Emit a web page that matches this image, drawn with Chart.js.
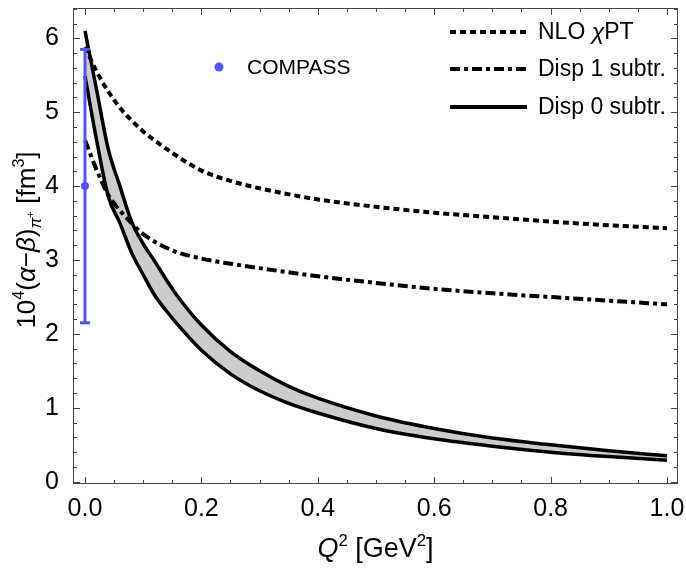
<!DOCTYPE html>
<html><head><meta charset="utf-8">
<script src="https://cdn.jsdelivr.net/npm/chart.js@4"></script>
<style>html,body{margin:0;padding:0;background:#fff;}#wrap{width:686px;height:571px;}</style>
</head><body><div id="wrap"><canvas id="c" width="686" height="571"></canvas></div>
<script>
// ---- data ----
const q2Band      = [0, 0.02, 0.04, 0.06, 0.08, 0.10, 0.12, 0.14, 0.16, 0.20, 0.25, 0.30, 0.35, 0.40, 0.50, 0.60, 0.70, 0.80, 0.90, 1.00];
const disp0Upper  = [6.10, 5.30, 4.50, 4.00, 3.52, 3.22, 2.98, 2.73, 2.50, 2.12, 1.76, 1.50, 1.29, 1.13, 0.89, 0.72, 0.59, 0.50, 0.42, 0.35];
const disp0Lower  = [5.49, 4.62, 3.86, 3.50, 3.10, 2.80, 2.52, 2.31, 2.12, 1.78, 1.46, 1.23, 1.06, 0.93, 0.72, 0.58, 0.48, 0.40, 0.34, 0.29];
const q2Curves    = [0, 0.02, 0.04, 0.06, 0.08, 0.10, 0.15, 0.20, 0.25, 0.30, 0.40, 0.50, 0.60, 0.70, 0.80, 0.90, 1.00];
const nloChpt     = [5.88, 5.55, 5.28, 5.06, 4.89, 4.74, 4.45, 4.21, 4.07, 3.97, 3.82, 3.72, 3.64, 3.58, 3.52, 3.47, 3.43];
const disp1Subtr  = [4.62, 4.22, 3.88, 3.67, 3.50, 3.35, 3.13, 3.02, 2.95, 2.89, 2.78, 2.69, 2.61, 2.55, 2.50, 2.45, 2.40];
const compassQ2   = [0];
const compassVal  = [4.0];
const compassLow  = [2.15];
const compassHigh = [5.85];
const xTickValues = [0, 0.2, 0.4, 0.6, 0.8, 1.0];
const yTickValues = [0, 1, 2, 3, 4, 5, 6];
const legendLabels = ['NLO χPT', 'Disp 1 subtr.', 'Disp 0 subtr.'];
const compassLabel = 'COMPASS';

const BLUE = 'rgb(82,82,255)';
const FONT = "'Liberation Sans', Arial, sans-serif";
const pts = (xs, ys) => xs.map((x, i) => ({x: x, y: ys[i]}));

function richText(ctx, x, y, parts, size, align) {
  // parts: [text, scale, shift(em, +up), italic]
  let total = 0;
  const m = parts.map(p => {
    const fs = size * (p[1] || 1);
    ctx.font = (p[3] ? 'italic ' : '') + fs + 'px ' + FONT;
    const w = ctx.measureText(p[0]).width;
    total += w;
    return {t: p[0], f: ctx.font, w: w, dy: -(p[2] || 0) * size};
  });
  let cx = align === 'center' ? x - total / 2 : x;
  m.forEach(p => { ctx.font = p.f; ctx.fillText(p.t, cx, y + p.dy); cx += p.w; });
}

const decor = {
  id: 'decor',
  afterDraw(chart) {
    const ctx = chart.ctx, a = chart.chartArea;
    const xs = chart.scales.x, ys = chart.scales.y;
    ctx.save();
    // frame
    ctx.strokeStyle = '#444'; ctx.lineWidth = 1;
    ctx.strokeRect(a.left + 0.5, a.top + 0.5, a.right - a.left - 1, a.bottom - a.top - 1);
    // ticks (inward) on all four sides
    ctx.beginPath();
    for (let i = 0; i <= 20; i++) {
      const v = i * 0.05, px = Math.round(xs.getPixelForValue(v)) + 0.5;
      const L = (i % 4 === 0) ? 7 : 4;
      ctx.moveTo(px, a.bottom); ctx.lineTo(px, a.bottom - L);
      ctx.moveTo(px, a.top); ctx.lineTo(px, a.top + L);
    }
    for (let i = 0; i <= 32; i++) {
      const v = i * 0.2, py = Math.round(ys.getPixelForValue(v)) + 0.5;
      if (py < a.top || py > a.bottom) continue;
      const L = (i % 5 === 0) ? 7 : 4;
      ctx.moveTo(a.left, py); ctx.lineTo(a.left + L, py);
      ctx.moveTo(a.right, py); ctx.lineTo(a.right - L, py);
    }
    ctx.stroke();

    // legend (lines)
    ctx.strokeStyle = '#000'; ctx.lineWidth = 4; ctx.lineCap = 'butt';
    const ly = [32, 69, 107], dashes = [[6, 4], [10, 4, 4, 4], []];
    ly.forEach((y, i) => {
      ctx.setLineDash(dashes[i]);
      ctx.beginPath(); ctx.moveTo(450, y); ctx.lineTo(527, y); ctx.stroke();
    });
    ctx.setLineDash([]);
    ctx.fillStyle = '#000'; ctx.textBaseline = 'middle'; ctx.textAlign = 'left';
    richText(ctx, 538, ly[0] + 1, [['NLO '], ['χ', 1, 0, true], ['PT']], 23);
    richText(ctx, 538, ly[1] + 1, [[legendLabels[1]]], 23);
    richText(ctx, 538, ly[2] + 1, [[legendLabels[2]]], 23);
    // COMPASS legend
    ctx.fillStyle = BLUE;
    ctx.beginPath(); ctx.arc(219, 67, 4.5, 0, Math.PI * 2); ctx.fill();
    ctx.fillStyle = '#000';
    richText(ctx, 247, 68, [[compassLabel]], 21);

    // axis titles
    ctx.textBaseline = 'alphabetic';
    richText(ctx, (a.left + a.right) / 2, 557,
      [['Q', 1, 0, true], ['2', 0.62, 0.42], [' [GeV'], ['2', 0.62, 0.42], [']']], 27, 'center');
    ctx.save();
    ctx.translate(35, 240);
    ctx.rotate(-Math.PI / 2);
    richText(ctx, 0, 0,
      [['10'], ['4', 0.62, 0.42], ['('], ['α', 1, 0, true], ['−'], ['β', 1, 0, true], [')'],
       ['π', 0.62, -0.22, true], ['+', 0.45, 0.05], [' [fm'], ['3', 0.62, 0.42], [']']], 26, 'center');
    ctx.restore();
    ctx.restore();
  }
};

new Chart(document.getElementById('c'), {
  type: 'line',
  data: {
    datasets: [
      { label: 'COMPASS', data: pts(compassQ2, compassVal), showLine: false,
        pointRadius: 4, pointBackgroundColor: BLUE, pointBorderColor: BLUE, pointBorderWidth: 0 },
      { label: 'COMPASS error', data: [{x: compassQ2[0], y: compassLow[0]}, {x: compassQ2[0], y: compassHigh[0]}],
        showLine: true, borderColor: BLUE, borderWidth: 3, pointStyle: 'line', pointRadius: 5,
        pointBorderColor: BLUE, pointBorderWidth: 3, fill: false },
      { label: 'Disp 0 lower', data: pts(q2Band, disp0Lower), borderColor: '#000', borderWidth: 3.5,
        pointRadius: 0, fill: false, cubicInterpolationMode: 'monotone' },
      { label: 'Disp 0 upper', data: pts(q2Band, disp0Upper), borderColor: '#000', borderWidth: 3.5,
        pointRadius: 0, fill: '-1', backgroundColor: '#cccccc', cubicInterpolationMode: 'monotone' },
      { label: 'NLO', data: pts(q2Curves, nloChpt), borderColor: '#000', borderWidth: 4, borderDash: [6, 4],
        pointRadius: 0, fill: false, cubicInterpolationMode: 'monotone' },
      { label: 'Disp 1', data: pts(q2Curves, disp1Subtr), borderColor: '#000', borderWidth: 4, borderDash: [10, 4, 4, 4],
        pointRadius: 0, fill: false, cubicInterpolationMode: 'monotone' }
    ]
  },
  options: {
    responsive: false, animation: false, devicePixelRatio: 1,
    layout: { padding: { top: 1, right: 8, left: 0, bottom: 0 } },
    plugins: { legend: { display: false }, tooltip: { enabled: false }, filler: { drawTime: 'beforeDatasetsDraw' } },
    scales: {
      x: { type: 'linear', min: -0.0206, max: 1.0189,
        afterBuildTicks: s => { s.ticks = xTickValues.map(v => ({value: v})); },
        afterFit: s => { s.height = 87; s.paddingLeft = 0; s.paddingRight = 0; s.paddingTop = 0; s.paddingBottom = 0; },
        grid: { display: false }, border: { display: false },
        ticks: { font: { family: FONT, size: 25 }, color: '#000', padding: 2, maxRotation: 0, autoSkip: false,
          callback: v => Number(v).toFixed(1) } },
      y: { type: 'linear', min: -0.031, max: 6.41,
        afterBuildTicks: s => { s.ticks = yTickValues.map(v => ({value: v})); },
        afterFit: s => { s.width = 73; s.paddingLeft = 0; s.paddingRight = 0; s.paddingTop = 0; s.paddingBottom = 0; },
        grid: { display: false }, border: { display: false },
        ticks: { font: { family: FONT, size: 25 }, color: '#000', padding: 6, autoSkip: false,
          callback: v => String(v) } }
    }
  },
  plugins: [decor]
});
</script></body></html>
